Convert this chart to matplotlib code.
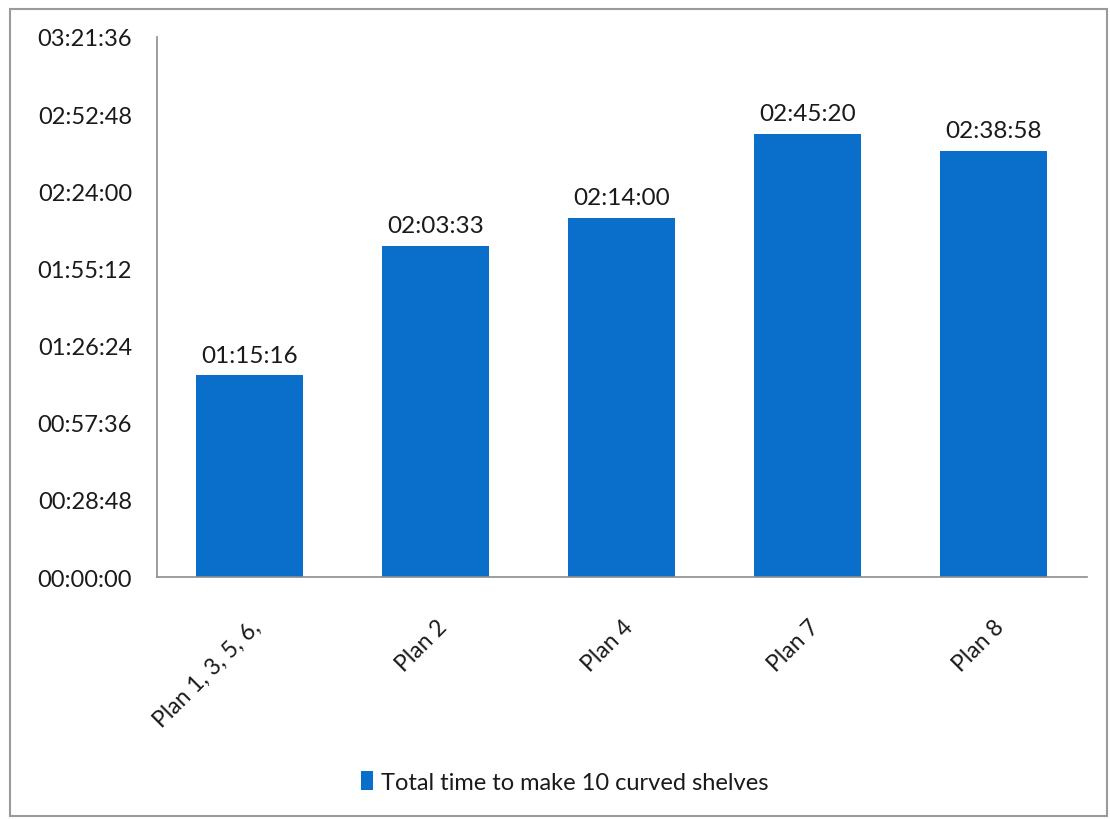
import matplotlib
matplotlib.use("Agg")
import matplotlib.pyplot as plt
import matplotlib.ticker as ticker
from matplotlib.patches import Rectangle

# ---------------------------------------------------------------------------
# Dati
# ---------------------------------------------------------------------------
plans = ["Plan 1, 3, 5, 6,", "Plan 2", "Plan 4", "Plan 7", "Plan 8"]
durations = ["01:15:16", "02:03:33", "02:14:00", "02:45:20", "02:38:58"]
series_name = "Total time to make 10 curved shelves"

STEP = 28 * 60 + 48          # 00:28:48 fra un tick e l'altro
N_STEPS = 7

BAR_COLOR = "#0A6FCA"
TEXT_COLOR = "#1a1a1a"
AXIS_COLOR = "#8c8c8c"


def to_seconds(s):
    h, m, sec = (int(p) for p in s.split(":"))
    return h * 3600 + m * 60 + sec


def hms(v, pos=None):
    v = int(round(v))
    return f"{v // 3600:02d}:{(v % 3600) // 60:02d}:{v % 60:02d}"


seconds = [to_seconds(d) for d in durations]

plt.rcParams["font.family"] = ["Lato", "DejaVu Sans"]

fig = plt.figure(figsize=(11.1, 8.2), dpi=100)
ax = fig.add_axes([0.1414, 0.2951, 0.8376, 0.6586])

x = range(len(plans))
bars = ax.bar(x, seconds, width=0.575, color=BAR_COLOR, label=series_name, zorder=2)

for b, lab in zip(bars, durations):
    ax.annotate(lab, (b.get_x() + b.get_width() / 2, b.get_height()),
                xytext=(0, 7), textcoords="offset points",
                ha="center", va="bottom", fontsize=17.5, color=TEXT_COLOR)

ax.set_xlim(-0.5, len(plans) - 0.5)
ax.set_ylim(0, STEP * N_STEPS)
ax.yaxis.set_major_locator(ticker.MultipleLocator(STEP))
ax.yaxis.set_major_formatter(ticker.FuncFormatter(hms))

ax.set_xticks(list(x))
ax.set_xticklabels(plans, rotation=45, ha="right", rotation_mode="anchor")

ax.tick_params(axis="y", length=0, pad=18, labelsize=17, labelcolor=TEXT_COLOR)
ax.tick_params(axis="x", length=0, pad=28, labelsize=16.5, labelcolor=TEXT_COLOR)

for side in ("top", "right"):
    ax.spines[side].set_visible(False)
for side in ("left", "bottom"):
    ax.spines[side].set_color(AXIS_COLOR)
    ax.spines[side].set_linewidth(1.2)

leg = fig.legend(loc="center", bbox_to_anchor=(0.509, 0.045), frameon=False,
                 fontsize=17, handlelength=0.5, handleheight=0.85,
                 handletextpad=0.35)
for t in leg.get_texts():
    t.set_color(TEXT_COLOR)

# cornice esterna del grafico
fig.patches.append(Rectangle((0.009, 0.004), 0.988, 0.984, transform=fig.transFigure,
                             fill=False, edgecolor="#9a9a9a", linewidth=1.5))

fig.savefig("out.png", dpi=100)
